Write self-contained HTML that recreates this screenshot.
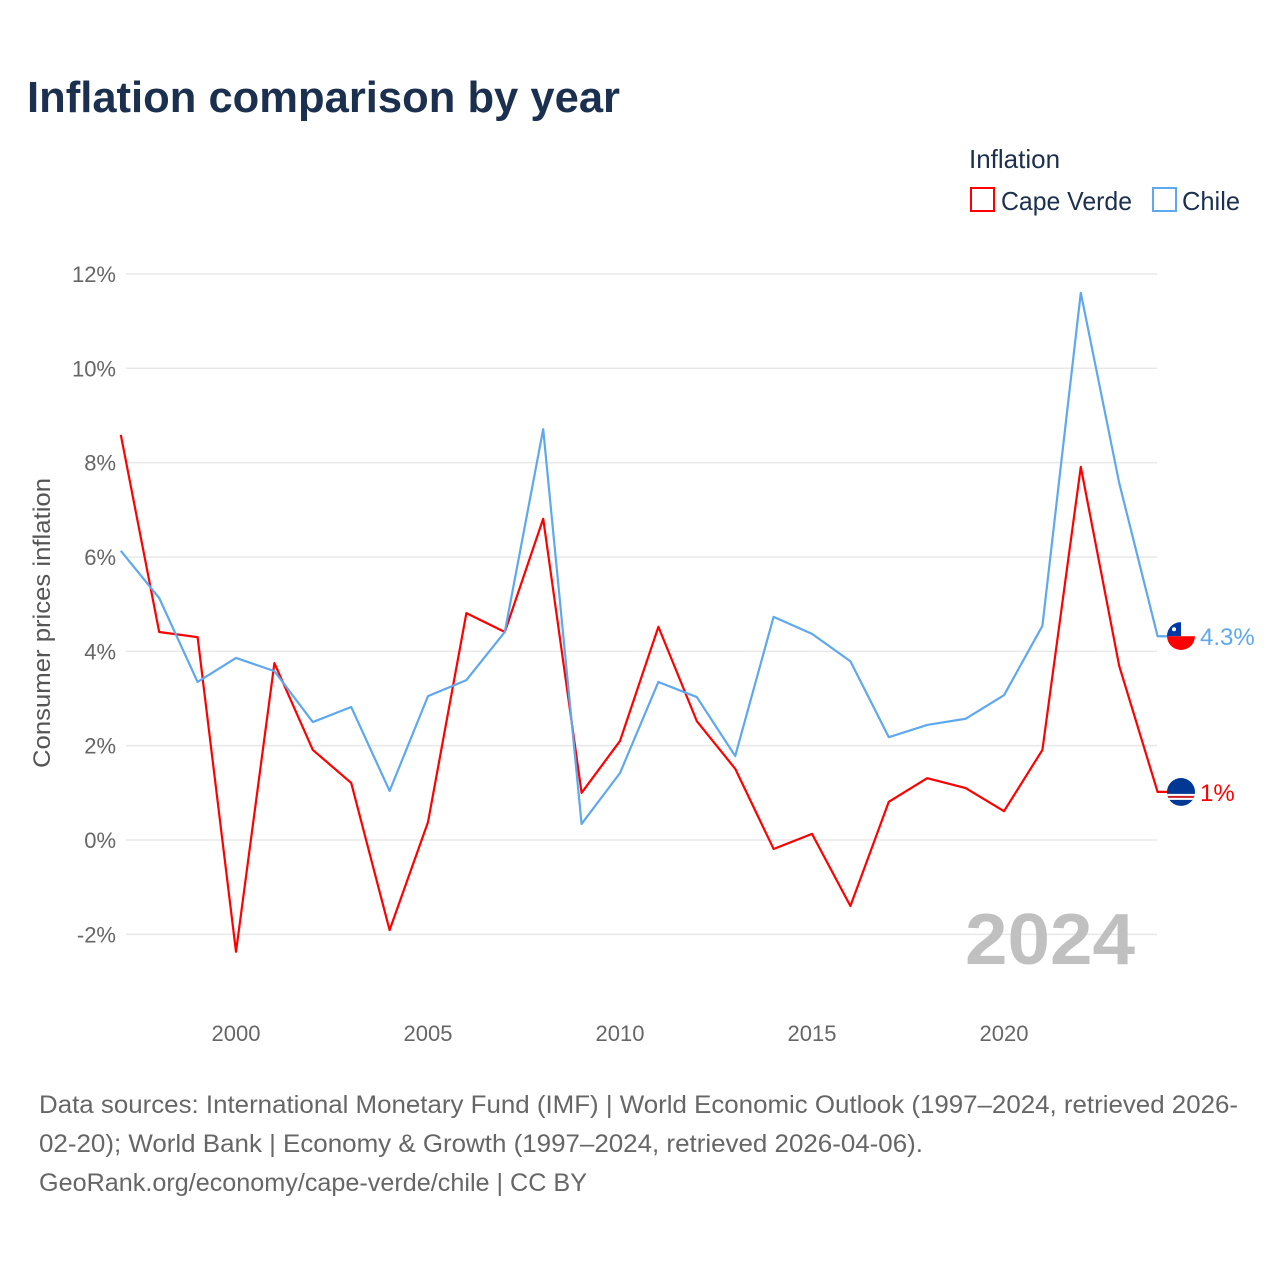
<!DOCTYPE html>
<html><head><meta charset="utf-8">
<style>
body{margin:0;background:#fff;font-family:"Liberation Sans",sans-serif;}
#wrap{position:relative;width:1280px;height:1280px;overflow:hidden;}
</style></head>
<body>
<div id="wrap">
<svg id="chart" width="1280" height="1280" xmlns="http://www.w3.org/2000/svg">
<defs>
<clipPath id="clipCL"><circle cx="1181" cy="636" r="14"/></clipPath>
<clipPath id="clipCV"><circle cx="1181" cy="792" r="14"/></clipPath>
</defs>
<text x="27" y="112" font-size="44" font-weight="bold" fill="#1b2f4f" textLength="593" lengthAdjust="spacingAndGlyphs">Inflation comparison by year</text>
<text x="969" y="168" font-size="26" fill="#1b2f4f">Inflation</text>
<g>
<rect x="971" y="188" width="23" height="23" fill="none" stroke="#ff0000" stroke-width="2"/>
<text x="1001" y="210" font-size="26" fill="#1b2f4f" textLength="131" lengthAdjust="spacingAndGlyphs">Cape Verde</text></g>
<g>
<rect x="1153" y="188" width="23" height="23" fill="none" stroke="#5ea8ee" stroke-width="2"/>
<text x="1182" y="210" font-size="26" fill="#1b2f4f" textLength="58" lengthAdjust="spacingAndGlyphs">Chile</text></g>
<g id="grid"></g><g id="yticks"></g><g id="xticks"></g>
<text transform="translate(50,623) rotate(-90)" text-anchor="middle" font-size="24" fill="#555" textLength="290" lengthAdjust="spacingAndGlyphs">Consumer prices inflation</text>
<text x="1135" y="964" text-anchor="end" font-size="72" font-weight="bold" fill="#c0c0c0" textLength="170" lengthAdjust="spacingAndGlyphs">2024</text>
<g id="series"></g>
<text font-size="25" fill="#666">
<tspan x="39" y="1113" textLength="1199" lengthAdjust="spacingAndGlyphs">Data sources: International Monetary Fund (IMF) | World Economic Outlook (1997–2024, retrieved 2026-</tspan>
<tspan x="39" y="1152" textLength="884" lengthAdjust="spacingAndGlyphs">02-20); World Bank | Economy &amp; Growth (1997–2024, retrieved 2026-04-06).</tspan>
<tspan x="39" y="1191" textLength="548" lengthAdjust="spacingAndGlyphs">GeoRank.org/economy/cape-verde/chile | CC BY</tspan></text>
</svg></div>
<script>
const years=[1997,1998,1999,2000,2001,2002,2003,2004,2005,2006,2007,2008,2009,2010,2011,2012,2013,2014,2015,2016,2017,2018,2019,2020,2021,2022,2023,2024];
const capeVerde=[8.59,4.41,4.30,-2.37,3.75,1.91,1.21,-1.91,0.38,4.81,4.41,6.81,1.0,2.10,4.52,2.52,1.51,-0.19,0.13,-1.40,0.81,1.31,1.10,0.61,1.91,7.91,3.69,1.02];
const chile=[6.13,5.13,3.35,3.86,3.58,2.50,2.82,1.04,3.05,3.39,4.41,8.71,0.34,1.42,3.35,3.03,1.78,4.73,4.37,3.79,2.18,2.44,2.57,3.07,4.54,11.6,7.57,4.32];
const yTicks=[-2,0,2,4,6,8,10,12];
const xTicks=[2000,2005,2010,2015,2020];
const NS="http://www.w3.org/2000/svg";
const x=v=>236+(v-2000)*38.4;
const y=v=>840-v*47.17;
function mk(t,a,p){const e=document.createElementNS(NS,t);for(const k in a)e.setAttribute(k,a[k]);p.appendChild(e);return e;}
const grid=document.getElementById('grid'),yt=document.getElementById('yticks'),xt=document.getElementById('xticks'),se=document.getElementById('series');
yTicks.forEach(v=>{
 const l=mk('line',{x1:126,x2:1157,y1:y(v),y2:y(v),stroke:'#e8e8e8','stroke-width':1.5},grid);
 
 
 const t=mk('text',{x:116,y:y(v)+8,'text-anchor':'end','font-size':22,fill:'#666'},yt);
 t.textContent=v+'%';
 
 
});
xTicks.forEach(v=>{
 const t=mk('text',{x:x(v),y:1041,'text-anchor':'middle','font-size':22,fill:'#666'},xt);
 t.textContent=v;
 
 
});
function draw(vals,color,name,label,flag){
 const last=vals[vals.length-1];
 const pts=vals.map((v,i)=>x(years[i])+','+y(v)).join(' ')+' 1170,'+y(last);
 const p=mk('polyline',{points:pts,fill:'none',stroke:color,'stroke-width':2.2,'stroke-linejoin':'round'},se);
 
 
 const cy=y(last);
 const g=mk('g',{},se);
 
 
 if(flag==='cl'){
  const gg=mk('g',{'clip-path':'url(#clipCL)'},g);
  mk('rect',{x:1167,y:cy-14,width:28,height:14,fill:'#fff'},gg);
  mk('rect',{x:1167,y:cy-14,width:14,height:14,fill:'#0039a6'},gg);
  mk('rect',{x:1167,y:cy,width:28,height:14,fill:'#ff0000'},gg);
  mk('circle',{cx:1174,cy:cy-7,r:2,fill:'#fff'},gg);
 }else{
  const gg=mk('g',{'clip-path':'url(#clipCV)'},g);
  mk('rect',{x:1167,y:cy-14,width:28,height:28,fill:'#003893'},gg);
  mk('rect',{x:1167,y:cy+2,width:28,height:6,fill:'#fff'},gg);
  mk('rect',{x:1167,y:cy+4,width:28,height:2,fill:'#cf2027'},gg);
 }
 const t=mk('text',{x:1200,y:cy+9,'font-size':24,fill:color},se);
 t.textContent=label;
 
 
}
draw(capeVerde,'#ff0000','cape-verde','1%','cv');
draw(chile,'#5ea8ee','chile','4.3%','cl');
</script>
</body></html>
